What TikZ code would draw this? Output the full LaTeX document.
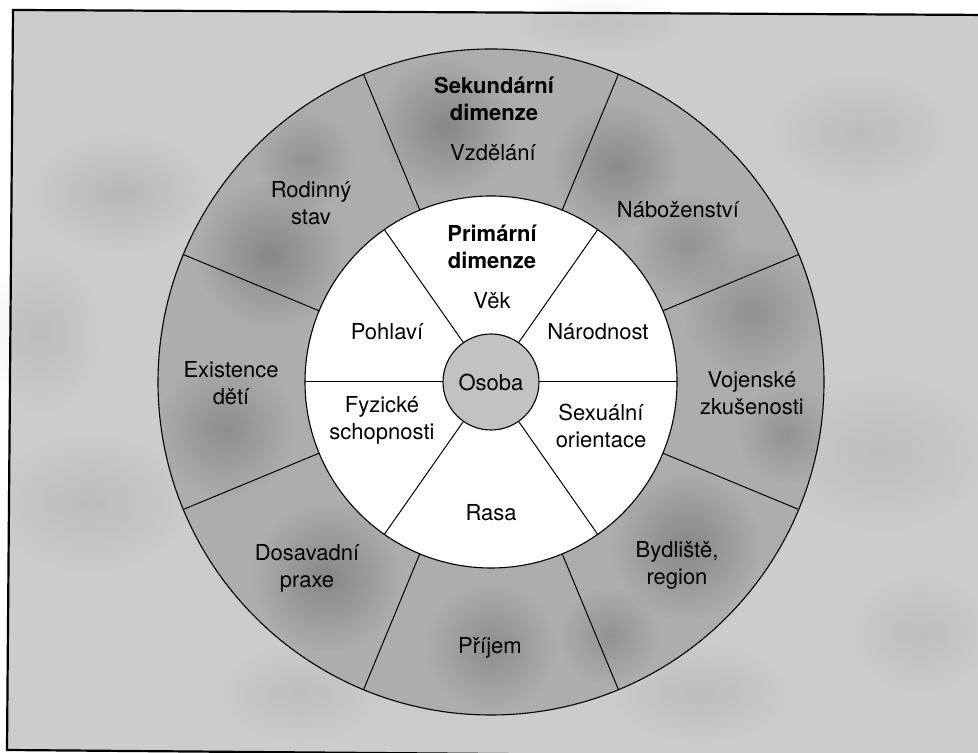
\documentclass[tikz,border=0pt]{standalone}
\usepackage{fontspec}
\setmainfont{TeX Gyre Heros}
\usetikzlibrary{fadings,calc}
\tikzfading[name=softblob, inner color=transparent!0, outer color=transparent!100]
\tikzset{
  lbl/.style={align=center, inner sep=0pt, font=\fontsize{11}{13.5}\selectfont},
  bold lbl/.style={lbl, font=\fontsize{11}{13.5}\selectfont\bfseries},
  spoke/.style={draw=black, line width=0.5pt},
  rim/.style={draw=black, line width=0.55pt},
  blob/.style={fill=black, path fading=softblob},
}
\definecolor{paper}{gray}{0.80}
\definecolor{ringgray}{gray}{0.68}
\definecolor{hubgray}{gray}{0.76}
\begin{document}
\begin{tikzpicture}[x=0.5pt,y=0.5pt]
  \useasboundingbox (0,0) rectangle (978,753);
  \fill[white] (0,0) rectangle (978,753);
  % slightly skewed outer frame
  \begin{scope}
    \clip (0,0) rectangle (978,753);
    \fill[paper] (13,743) -- (990,738) -- (985,-5) -- (7,3) -- cycle;
    % soft cloudy patches on the background
    \foreach \px/\py/\rx/\ry/\op in {120/560/90/60/0.10, 90/250/100/70/0.08, 860/620/90/60/0.08,
                                 880/300/110/80/0.07, 300/60/80/50/0.07, 700/60/90/50/0.08,
                                 40/420/60/80/0.08, 920/120/70/60/0.07, 600/730/90/30/0.06}
      \fill[blob, opacity=\op] (\px,\py) ellipse ({\rx} and {\ry});
    \draw[line width=1.1pt] (990,738) -- (13,743) -- (7,3) -- (985,-5);
  \end{scope}

  \coordinate (c) at (491,371);

  % secondary ring
  \fill[ringgray] (c) circle (333);
  \begin{scope}
    \clip (c) circle (333);
    \foreach \ang/\dist/\rr/\op in {100/260/70/0.22, 60/250/65/0.20, 15/270/70/0.16,
                                   -40/255/75/0.22, -90/265/65/0.18, -130/255/75/0.22,
                                   -170/270/70/0.18, 150/255/75/0.22, 130/290/50/0.15,
                                   -10/300/50/0.15, 35/240/55/0.15, -65/280/50/0.15}
      \fill[blob, opacity=\op] ($(c)+(\ang:\dist)$) circle (\rr);
  \end{scope}
  \draw[rim] (c) circle (333);

  % primary disc
  \fill[white] (c) circle (186);
  \draw[rim] (c) circle (186);

  % secondary spokes
  \foreach \a in {22.5,67.5,...,337.5}
    \draw[spoke] ($(c)+(\a:186)$) -- ($(c)+(\a:333)$);

  % primary spokes
  \foreach \a in {0,55,125,180,235,305}
    \draw[spoke] ($(c)+(\a:48)$) -- ($(c)+(\a:186)$);

  % hub
  \node[circle, minimum size=48pt, inner sep=0pt, fill=hubgray, draw=black,
        line width=0.55pt, font=\fontsize{11}{13.5}\selectfont] (osoba) at (c) {Osoba};

  % secondary labels
  \node[bold lbl] (sek) at (494,654) {Sekundární\\dimenze};
  \node[lbl] (vzd) at (493,600) {Vzdělání};
  \node[lbl] (nab) at (678,543) {Náboženství};
  \node[lbl] (voj) at (752,360) {Vojenské\\zkušenosti};
  \node[lbl] (byd) at (677,188) {Bydliště,\\region};
  \node[lbl] (pri) at (490,105) {Příjem};
  \node[lbl] (dos) at (307,185) {Dosavadní\\praxe};
  \node[lbl] (exi) at (231,370) {Existence\\dětí};
  \node[lbl] (rod) at (311,550) {Rodinný\\stav};

  % primary labels
  \node[bold lbl] (prim) at (492,506) {Primární\\dimenze};
  \node[lbl] (vek) at (492,452) {Věk};
  \node[lbl] (nar) at (598,421) {Národnost};
  \node[lbl] (sex) at (601,327) {Sexuální\\orientace};
  \node[lbl] (ras) at (491,240) {Rasa};
  \node[lbl] (fyz) at (382,333) {Fyzické\\schopnosti};
  \node[lbl] (poh) at (387,421) {Pohlaví};
\end{tikzpicture}
\end{document}
